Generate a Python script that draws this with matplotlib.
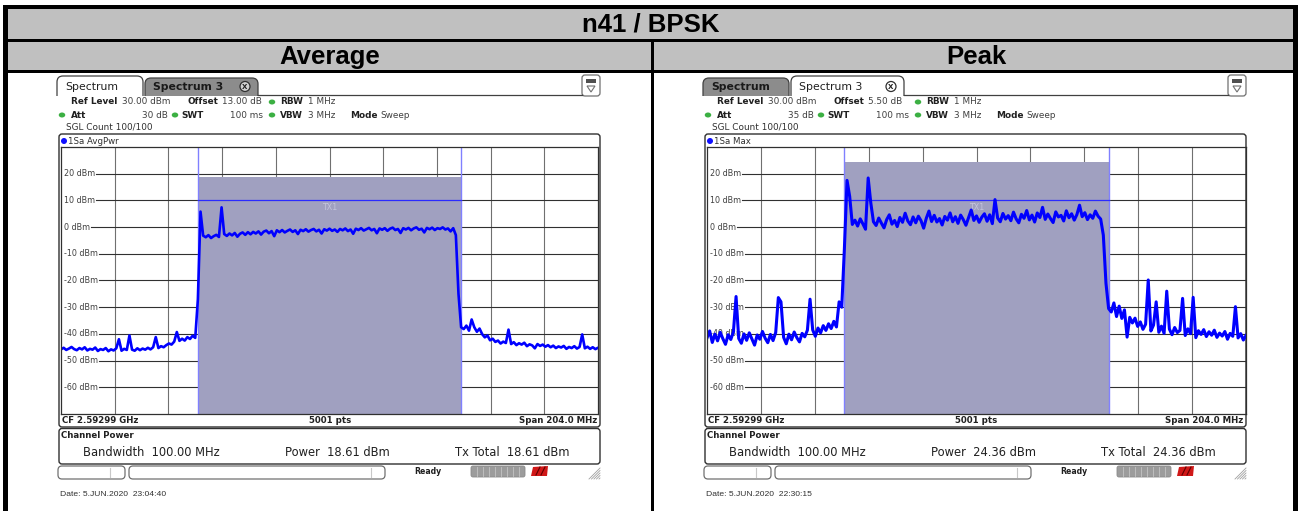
import numpy as np
import matplotlib
matplotlib.use("Agg")
import matplotlib.pyplot as plt
from matplotlib.patches import Rectangle, FancyBboxPatch, Circle, Ellipse, PathPatch, Polygon
from matplotlib.path import Path

W, H = 1301, 511

# ---------------- data ----------------
title_text = "n41 / BPSK"
column_titles = ["Average", "Peak"]

cf_text = "CF 2.59299 GHz"
span_mhz = 204.0
channel_bw_mhz = 100.0
ref_level_dbm = 30.0
bottom_level_dbm = -70.0
y_tick_levels = [20, 10, 0, -10, -20, -30, -40, -50, -60]

# trace levels (dBm), evenly spaced over the 204 MHz span
avg_level_dbm = [
    -45.8, -45.2, -46.0, -45.5, -44.9, -45.7, -46.1, -45.3, -45.8, -45.0,
    -46.2, -45.6, -45.9, -45.1, -46.4, -45.7, -46.0, -45.3, -46.5, -45.8,
    -46.2, -45.4, -42.0, -46.3, -45.6, -46.0, -40.6, -45.9, -46.3, -45.4,
    -46.1, -45.5, -45.9, -45.2, -45.8, -45.0, -41.2, -45.3, -44.6, -45.0,
    -44.2, -43.6, -44.0, -42.9, -39.3, -42.6, -41.8, -42.5, -41.2, -41.9,
    -40.7, -41.5,
    -27.0, 5.8, -3.2, -3.8, -3.0, -4.1, -3.4, -2.9, -3.7, 7.4,
    -2.6, -3.3, -2.4, -3.1, -2.2, -3.6, -2.5, -2.0, -2.9, -1.9,
    -2.7, -1.8, -2.4, -1.6, -2.8, -1.7, -1.3, -2.3, -1.5, -3.4,
    -1.2, -1.9, -1.1, -2.0, -1.4, -0.9, -1.8, -1.2, -2.6, -1.0,
    -1.5, -0.8, -1.7, -1.1, -0.7, -1.6, -1.0, -2.4, -0.8, -1.3,
    -0.6, -1.4, -0.9, -1.8, -0.7, -1.2, -0.5, -1.5, -0.9, -2.5,
    -0.6, -1.1, -0.4, -1.3, -0.8, -0.3, -1.2, -0.7, -2.3, -0.5,
    -1.0, -0.4, -1.4, -0.6, -0.2, -1.1, -0.7, -2.2, -0.4, -0.9,
    -0.3, -1.2, -0.5, -0.1, -1.0, -0.6, -2.0, -0.3, -0.8, -0.2,
    -1.1, -0.4, -0.7, -0.1, -0.9, -0.5, -1.6, -0.4, -3.0, -25.0,
    -37.5,
    -38.2, -36.9, -38.8, -34.6, -37.5, -39.2, -38.0, -40.1, -41.3, -40.6,
    -42.4, -41.8, -43.0, -42.5, -43.6, -42.9, -43.4, -38.4, -43.8, -43.1,
    -44.2, -43.5, -44.0, -43.3, -44.6, -43.9, -44.3, -45.4, -43.8, -44.5,
    -44.0, -44.8, -44.2, -45.0, -44.4, -45.3, -44.7, -45.1, -44.5, -45.6,
    -44.9, -45.3, -44.6, -45.5, -44.9, -40.2, -45.4, -44.8, -45.6, -45.0,
    -45.7, -45.2,
]

peak_level_dbm = [
    -41.5, -38.9, -43.2, -40.1, -42.6, -39.4, -41.8, -43.9, -40.3, -42.1,
    -39.2, -26.0, -41.7, -43.5, -40.0, -42.4, -39.6, -41.9, -44.2, -40.4,
    -42.0, -39.1, -41.6, -43.3, -40.2, -42.5, -39.5, -26.4, -28.0, -41.3,
    -43.7, -40.1, -42.2, -39.3, -41.4, -43.0, -39.8, -41.1, -38.6, -27.0,
    -38.5, -40.9, -37.8, -39.6, -36.9, -38.7, -36.2, -38.0, -35.3, -37.4,
    -28.0, -30.0,
    -8.0, 17.5, 11.5, 1.0, 2.6, 0.4, 3.1, 1.2, -0.8, 18.4,
    9.0, 2.0, 0.6, 3.4, 1.5, -0.3, 2.8, 4.6, 1.1, 2.5,
    0.2, 3.6, 1.8, 5.2, 2.3, 0.9, 3.8, 1.6, 4.1, 2.4,
    -0.4, 3.3, 6.0, 2.1, 4.4, 1.9, 3.2, 0.8, 4.0, 2.6,
    5.3, 2.0, 3.9, 1.4, 4.5, 2.8, 0.7, 3.6, 6.4, 2.5,
    4.2, 1.8, 3.7, 5.0, 2.2, 4.6, 1.3, 10.3, 3.4, 2.0,
    5.1, 3.0, 4.3, 2.4, 5.6, 3.1, 1.6, 4.8, 3.3, 6.2,
    2.7, 4.5, 1.9, 5.3, 3.6, 7.4, 2.9, 4.9, 3.2, 1.7,
    5.7, 3.8, 4.4, 2.3, 6.1, 3.5, 5.0, 2.6, 4.7, 8.2,
    3.9, 5.4, 2.8, 4.6, 3.3, 6.0, 4.1, 3.0, -3.0, -21.0,
    -30.5,
    -31.8, -28.4, -33.5, -29.6, -34.2, -31.0, -41.2, -33.8, -35.9, -34.1,
    -37.2, -35.5, -38.3, -36.4, -19.8, -38.9, -36.7, -28.0, -39.4, -37.1,
    -39.8, -24.0, -38.2, -40.3, -37.6, -39.5, -38.7, -26.7, -40.6, -38.1,
    -39.9, -26.3, -41.4, -38.8, -40.2, -38.4, -41.0, -39.2, -40.5, -38.6,
    -41.3, -39.7, -40.8, -39.1, -42.0, -39.8, -40.9, -29.8, -41.5, -39.9,
    -42.3, -40.6,
]

channel_power_dbm = [18.61, 24.36]
offsets = ["13.00 dB", "5.50 dB"]
atts = ["30 dB", "35 dB"]
trace_labels = ["1Sa AvgPwr", "1Sa Max"]
dates = ["Date: 5.JUN.2020  23:04:40", "Date: 5.JUN.2020  22:30:15"]
active_tabs = [0, 1]
levels_list = [avg_level_dbm, peak_level_dbm]
trace_widths = [1.9, 2.2]

# ---------------- figure ----------------
fig = plt.figure(figsize=(W / 100, H / 100), dpi=100)
ax0 = fig.add_axes([0, 0, 1, 1])
ax0.set_xlim(0, W)
ax0.set_ylim(H, 0)
ax0.axis("off")
renderer = fig.canvas.get_renderer()

SANS = ["DejaVu Sans"]
ARIAL = ["Liberation Sans", "DejaVu Sans"]
GRAY = "#c0c0c0"

# table
ax0.add_patch(Rectangle((3, 5), 1295, 510, fc="white", ec="none"))
ax0.add_patch(Rectangle((8, 9), 1286, 31, fc=GRAY, ec="none"))
ax0.add_patch(Rectangle((8, 42), 1286, 29, fc=GRAY, ec="none"))
ax0.add_patch(Rectangle((3, 5), 5, 510, fc="black", ec="none"))
ax0.add_patch(Rectangle((1293, 5), 5, 510, fc="black", ec="none"))
ax0.add_patch(Rectangle((3, 5), 1295, 4.5, fc="black", ec="none"))
ax0.add_patch(Rectangle((3, 39), 1295, 3, fc="black", ec="none"))
ax0.add_patch(Rectangle((3, 70.5), 1295, 3, fc="black", ec="none"))
ax0.add_patch(Rectangle((651, 40), 3, 475, fc="black", ec="none"))

ax0.text(651, 24, title_text, ha="center", va="center", fontsize=18.5,
         fontweight="bold", family=ARIAL)
ax0.text(330, 57, column_titles[0], ha="center", va="center", fontsize=18.5,
         fontweight="bold", family=ARIAL)
ax0.text(976, 57, column_titles[1], ha="center", va="center", fontsize=18.5,
         fontweight="bold", family=ARIAL)


def tab_patch(x0, x1, ytop, ybot, r, fc, ec):
    verts = [(x0, ybot), (x0, ytop + r), (x0, ytop), (x0 + r, ytop),
             (x1 - r, ytop), (x1, ytop), (x1, ytop + r), (x1, ybot)]
    codes = [Path.MOVETO, Path.LINETO, Path.CURVE3, Path.CURVE3,
             Path.LINETO, Path.CURVE3, Path.CURVE3, Path.LINETO]
    return PathPatch(Path(verts, codes), fc=fc, ec=ec, lw=0.9)


def green_dot(x, y):
    ax0.add_patch(Ellipse((x, y), 6.5, 5, fc="#3cb043", ec="none"))


def draw_panel(k, dx, gx0, gw):
    active = active_tabs[k]
    # tabs
    tabs = [(57, 143, "Spectrum"), (145, 258, "Spectrum 3")]
    order = [1 - active, active]
    for idx in order:
        x0, x1, lab = tabs[idx]
        if idx == active:
            ax0.add_patch(tab_patch(x0 + dx, x1 + dx, 76, 96, 6, "white", "#404040"))
            ax0.text(x0 + dx + 8, 86.5, lab, ha="left", va="center", fontsize=7.8,
                     family=SANS, color="#202020")
        else:
            ax0.add_patch(tab_patch(x0 + dx, x1 + dx, 78, 96, 6, "#8c8c8c", "#404040"))
            ax0.text(x0 + dx + 8, 87, lab, ha="left", va="center", fontsize=7.8,
                     family=SANS, color="#1a1a1a", fontweight="bold")
    # close icon on Spectrum 3 tab
    ax0.add_patch(Circle((245 + dx, 86.5), 5, fc="white" if active == 1 else "#d0d0d0",
                         ec="#303030", lw=0.9))
    ax0.text(245 + dx, 86.8, "X", ha="center", va="center", fontsize=5,
             family=SANS, color="#202020", fontweight="bold")
    ax0.plot([258 + dx, 582 + dx], [95.5, 95.5], color="#404040", lw=0.9)
    # right icon
    ax0.add_patch(FancyBboxPatch((582 + dx, 75), 18, 21,
                                 boxstyle="round,pad=0,rounding_size=3",
                                 fc="white", ec="#707070", lw=0.9))
    ax0.add_patch(Rectangle((586 + dx, 79), 10, 4, fc="#505050", ec="none"))
    ax0.add_patch(Polygon([(587 + dx, 86), (595 + dx, 86), (591 + dx, 92)],
                          closed=True, fc="white", ec="#707070", lw=0.8))

    # header
    hs = 6.4
    y1, y2, y3 = 102, 115, 127
    ax0.text(71 + dx, y1, "Ref Level", fontsize=hs, fontweight="bold", va="center", family=SANS, color="#202020")
    ax0.text(122 + dx, y1, "30.00 dBm", fontsize=hs, va="center", family=SANS, color="#404040")
    ax0.text(187 + dx, y1, "Offset", fontsize=hs, fontweight="bold", va="center", family=SANS, color="#202020")
    ax0.text(222 + dx, y1, offsets[k], fontsize=hs, va="center", family=SANS, color="#404040")
    green_dot(272 + dx, y1)
    ax0.text(280 + dx, y1, "RBW", fontsize=hs, fontweight="bold", va="center", family=SANS, color="#202020")
    ax0.text(308 + dx, y1, "1 MHz", fontsize=hs, va="center", family=SANS, color="#404040")

    green_dot(62 + dx, y2)
    ax0.text(71 + dx, y2, "Att", fontsize=hs, fontweight="bold", va="center", family=SANS, color="#202020")
    ax0.text(168 + dx, y2, atts[k], fontsize=hs, va="center", ha="right", family=SANS, color="#404040")
    green_dot(175 + dx, y2)
    ax0.text(181 + dx, y2, "SWT", fontsize=hs, fontweight="bold", va="center", family=SANS, color="#202020")
    ax0.text(263 + dx, y2, "100 ms", fontsize=hs, va="center", ha="right", family=SANS, color="#404040")
    green_dot(272 + dx, y2)
    ax0.text(280 + dx, y2, "VBW", fontsize=hs, fontweight="bold", va="center", family=SANS, color="#202020")
    ax0.text(308 + dx, y2, "3 MHz", fontsize=hs, va="center", family=SANS, color="#404040")
    ax0.text(350 + dx, y2, "Mode", fontsize=hs, fontweight="bold", va="center", family=SANS, color="#202020")
    ax0.text(380 + dx, y2, "Sweep", fontsize=hs, va="center", family=SANS, color="#404040")
    ax0.text(66 + dx, y3, "SGL Count 100/100", fontsize=hs, va="center", family=SANS, color="#303030")

    # trace frame
    ax0.add_patch(FancyBboxPatch((59 + dx, 134), 541, 293,
                                 boxstyle="round,pad=0,rounding_size=3",
                                 fc="white", ec="#303030", lw=1.0))
    ax0.add_patch(Circle((64 + dx, 141), 3, fc="#1010ff", ec="none"))
    ax0.text(68 + dx, 141, trace_labels[k], fontsize=6.2, va="center", family=SANS, color="#303030")
    ax0.text(62 + dx, 420.5, cf_text, fontsize=6.2, va="center", family=SANS,
             fontweight="bold", color="#202020")
    ax0.text(330 + dx, 420.5, "5001 pts", fontsize=6.2, va="center", ha="center", family=SANS,
             fontweight="bold", color="#202020")
    ax0.text(597 + dx, 420.5, f"Span {span_mhz:.1f} MHz", fontsize=6.2, va="center", ha="right",
             family=SANS, fontweight="bold", color="#202020")

    # channel power box
    ax0.add_patch(FancyBboxPatch((59 + dx, 428.5), 541, 35.5,
                                 boxstyle="round,pad=0,rounding_size=3",
                                 fc="white", ec="#303030", lw=1.0))
    ax0.text(61 + dx, 435, "Channel Power", fontsize=6.2, va="center", family=SANS,
             fontweight="bold", color="#202020")
    cp = channel_power_dbm[k]
    ax0.text(83 + dx, 452, f"Bandwidth  {channel_bw_mhz:.2f} MHz", fontsize=8.3, va="center",
             family=SANS, color="#202020")
    ax0.text(285 + dx, 452, f"Power  {cp:.2f} dBm", fontsize=8.3, va="center",
             family=SANS, color="#202020")
    ax0.text(455 + dx, 452, f"Tx Total  {cp:.2f} dBm", fontsize=8.3, va="center",
             family=SANS, color="#202020")

    # status bar
    ax0.add_patch(FancyBboxPatch((58 + dx, 466), 67, 13, boxstyle="round,pad=0,rounding_size=4",
                                 fc="white", ec="#707070", lw=0.9))
    ax0.plot([110 + dx, 110 + dx], [468, 477], color="#c8c8c8", lw=0.8)
    ax0.add_patch(FancyBboxPatch((129 + dx, 466), 256, 13, boxstyle="round,pad=0,rounding_size=4",
                                 fc="white", ec="#707070", lw=0.9))
    ax0.plot([371 + dx, 371 + dx], [468, 477], color="#c8c8c8", lw=0.8)
    ax0.text(414 + dx, 471.5, "Ready", fontsize=5.6, va="center", family=SANS,
             fontweight="bold", color="#202020")
    ax0.add_patch(FancyBboxPatch((471 + dx, 466), 54, 11, boxstyle="round,pad=0,rounding_size=2",
                                 fc="#9c9c9c", ec="#8a8a8a", lw=0.6))
    for j in range(1, 9):
        xx = 471 + dx + j * 6
        ax0.plot([xx, xx], [467, 476], color="#c4c4c4", lw=0.6)
    ax0.add_patch(Polygon([(531 + dx, 476), (533 + dx, 467), (548 + dx, 466), (547 + dx, 476)],
                          closed=True, fc="#d01818", ec="none"))
    ax0.plot([536 + dx, 540 + dx], [475, 467], color="#600000", lw=0.8)
    ax0.plot([541 + dx, 545 + dx], [475, 467], color="#600000", lw=0.8)
    for j in range(5):
        ax0.plot([589 + dx + 2.5 * j, 600 + dx], [479, 468 + 2.5 * j], color="#a0a0a0", lw=0.6)

    ax0.text(60 + dx, 494, dates[k], fontsize=6.1, va="center", family=ARIAL, color="#303030")

    # ---- spectrum grid axes ----
    gy0, gy1 = 147, 414
    ax = fig.add_axes([gx0 / W, 1 - gy1 / H, gw / W, (gy1 - gy0) / H])
    half = span_mhz / 2
    ax.set_xlim(-half, half)
    ax.set_ylim(bottom_level_dbm, ref_level_dbm)
    ax.set_xticks([])
    ax.set_yticks([])
    ax.patch.set_alpha(0)
    for s in ax.spines.values():
        s.set_color("#303030")
        s.set_linewidth(0.9)
        s.set_zorder(6)
    for j in range(1, 10):
        ax.axvline(-half + j * span_mhz / 10, color="#707070", lw=0.8, zorder=1)
    inv = ax.transData.inverted()
    for lv in y_tick_levels:
        t = ax.text(-half + 1.2, lv, f"{lv} dBm", fontsize=5.8, va="center", ha="left",
                    family=SANS, color="#404040", zorder=2)
        bb = t.get_window_extent(renderer=renderer)
        xs = inv.transform((bb.x1 + 0.5, 0))[0]
        ax.plot([xs, half], [lv, lv], color="#303030", lw=0.8, zorder=1)
    bw = channel_bw_mhz / 2
    ax.fill_between([-bw, bw], bottom_level_dbm, channel_power_dbm[k],
                    color="#a0a0c0", lw=0, zorder=3)
    ax.axvline(-bw, color="#8080ff", lw=1.0, zorder=4)
    ax.axvline(bw, color="#8080ff", lw=1.0, zorder=4)
    ax.plot([-bw, bw], [10, 10], color="#2a2aff", lw=0.9, zorder=4)
    ax.text(0, 7.3, "TX1", fontsize=5.8, ha="center", va="center", family=SANS,
            color="#c4c4dc", zorder=4)
    lv_arr = np.asarray(levels_list[k])
    freq = np.linspace(-half, half, len(lv_arr))
    ax.plot(freq, lv_arr, color="#0000ff", lw=trace_widths[k], zorder=5,
            clip_on=True, solid_joinstyle="round")


assert len(avg_level_dbm) == 205 and len(peak_level_dbm) == 205
draw_panel(0, 0, 61, 537)
draw_panel(1, 646, 707, 539)

fig.savefig("out.png", dpi=100)
